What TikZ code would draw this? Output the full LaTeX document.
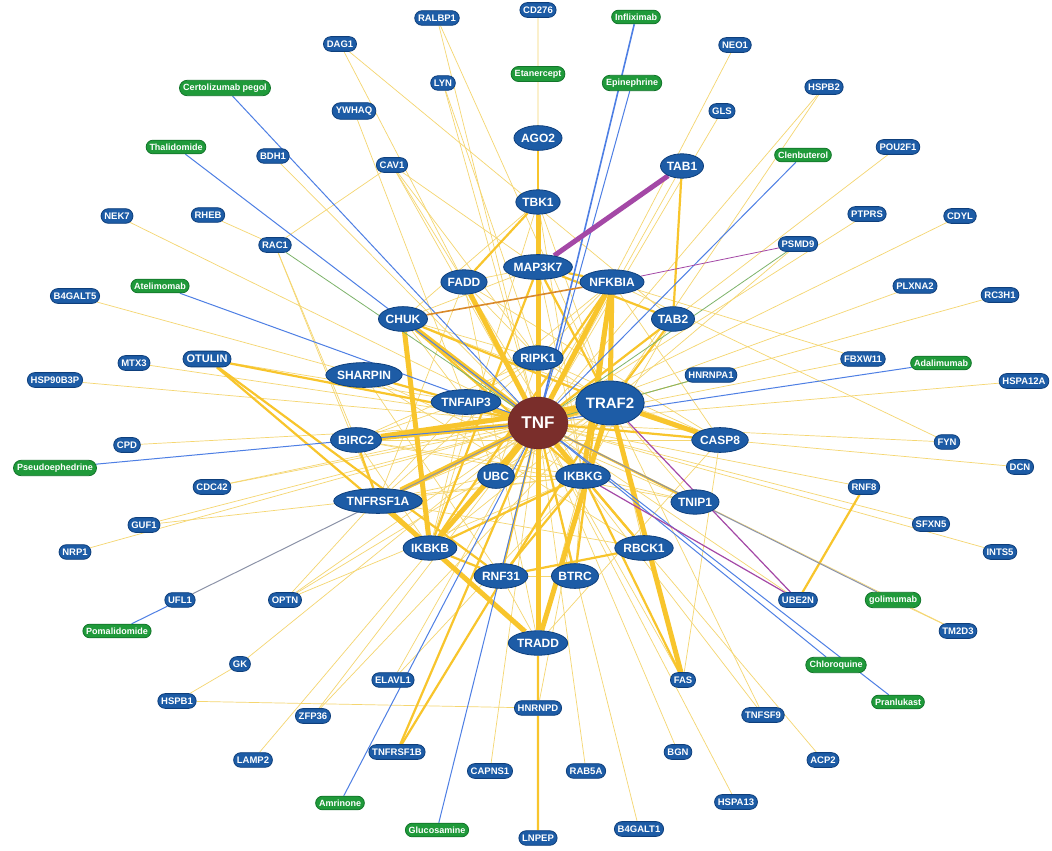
\documentclass[tikz,border=0pt]{standalone}
\usepackage{fontspec}
\setmainfont{Liberation Sans}
\usetikzlibrary{shapes.geometric,shapes.misc}
\definecolor{nblue}{HTML}{1D5CA6}
\definecolor{nbord}{HTML}{0E3F7C}
\definecolor{dgreen}{HTML}{1F9A3A}
\definecolor{dgbord}{HTML}{12752A}
\definecolor{tnfc}{HTML}{7A2E2B}
\definecolor{ythick}{HTML}{F8C52C}
\definecolor{ythin}{HTML}{F5D670}
\definecolor{eblue}{HTML}{4E7FE4}
\definecolor{epurp}{HTML}{A448A6}
\definecolor{egreen}{HTML}{7DB36A}
\definecolor{egray}{HTML}{8C93A8}
\definecolor{eorange}{HTML}{D9892A}
\pgfdeclarelayer{bg}
\pgfdeclarelayer{edges}
\pgfsetlayers{bg,edges,main}
\tikzset{
 pn/.style={rounded rectangle, fill=nblue, draw=nbord, line width=0.8pt, text=white,
   font=\bfseries\fontsize{9.5}{10}\selectfont, inner xsep=2.5pt, inner ysep=4pt},
 cn/.style={ellipse, fill=nblue, draw=nbord, line width=0.8pt, text=white,
   font=\bfseries\fontsize{12}{13}\selectfont, inner xsep=0pt, inner ysep=4.5pt},
 bn/.style={cn, font=\bfseries\fontsize{15}{16}\selectfont, minimum height=44pt, minimum width=60pt},
 dn/.style={rounded rectangle, fill=dgreen, draw=dgbord, line width=0.8pt, text=white,
   font=\bfseries\fontsize{9}{10}\selectfont, inner xsep=2.5pt, inner ysep=3.5pt},
 tn/.style={ellipse, fill=tnfc, draw=tnfc!80!black, text=white,
   font=\bfseries\fontsize{17}{18}\selectfont, minimum width=60pt, minimum height=52pt},
 ee/.style={draw=ythin, line width=0.7pt},
 em/.style={draw=ythick, line width=2.2pt},
 eh/.style={draw=ythick, line width=5pt},
 eb/.style={draw=eblue, line width=1pt},
 ep/.style={draw=epurp, line width=1.2pt},
 eg/.style={draw=egreen, line width=0.8pt},
 ey/.style={draw=egray, line width=1pt},
}
\begin{document}
\begin{tikzpicture}[x=1pt,y=-1pt]
\begin{pgfonlayer}{bg}
\fill[white] (0,0) rectangle (1052,851);
\end{pgfonlayer}
\useasboundingbox (0,0) rectangle (1052,851);
% TNF
\node[tn] (TNF) at (538,423) {TNF};
% peripheral blue
\foreach \n/\x/\y in {RALBP1/437/18, CD276/538/10, DAG1/340/44, NEO1/735/45, LYN/443/83,
 HSPB2/824/87, YWHAQ/354/111, GLS/722/111, BDH1/273/156, CAV1/392/165, POU2F1/898/147,
 NEK7/117/216, RHEB/208/215, PTPRS/867/214, CDYL/960/216, RAC1/275/245, PSMD9/798/244,
 B4GALT5/75/296, PLXNA2/915/286, RC3H1/1000/295, MTX3/134/363, HSP90B3P/55/380,
 FBXW11/863/359, HSPA12A/1024/381, FYN/947/442, CPD/127/445, DCN/1020/467, CDC42/212/487,
 RNF8/864/487, SFXN5/931/524, GUF1/144/525, NRP1/75/552, INTS5/1000/552, UFL1/180/600,
 OPTN/285/600, UBE2N/798/600, TM2D3/958/631, GK/240/664, FAS/683/680, ELAVL1/393/680,
 HSPB1/177/701, HNRNPD/538/708, ZFP36/313/716, TNFSF9/763/715, BGN/678/752,
 TNFRSF1B/397/752, LAMP2/253/760, ACP2/823/760, CAPNS1/490/771, RAB5A/586/771,
 HSPA13/736/802, LNPEP/538/838, B4GALT1/639/829, HNRNPA1/711/375}
 \node[pn] (\n) at (\x,\y) {\n};
\node[pn, font=\bfseries\fontsize{11}{12}\selectfont] (OTULIN) at (207,359) {OTULIN};
% core
\foreach \n/\x/\y in {AGO2/538/138, TAB1/682/166, TBK1/538/202, MAP3K7/538/267,
 FADD/464/282, NFKBIA/612/282, CHUK/403/319, TAB2/673/319, RIPK1/538/358,
 SHARPIN/364/375, TNFAIP3/466/402, BIRC2/356/440, CASP8/720/440, UBC/496/476,
 IKBKG/583/476, TNFRSF1A/378/501, TNIP1/695/502, IKBKB/430/548, RBCK1/644/548,
 RNF31/501/576, BTRC/575/576, TRADD/538/643}
 \node[cn] (\n) at (\x,\y) {\n};
\node[bn] (TRAF2) at (610,403) {TRAF2};
% drugs
\node[dn] (Infliximab) at (636,17) {Infliximab};
\node[dn] (Etanercept) at (538,74) {Etanercept};
\node[dn] (Epinephrine) at (632,83) {Epinephrine};
\node[dn] (Certolizumab) at (225,88) {Certolizumab pegol};
\node[dn] (Thalidomide) at (176,147) {Thalidomide};
\node[dn] (Clenbuterol) at (803,155) {Clenbuterol};
\node[dn] (Atelimomab) at (160,286) {Atelimomab};
\node[dn] (Adalimumab) at (941,363) {Adalimumab};
\node[dn] (Pseudoephedrine) at (55,468) {Pseudoephedrine};
\node[dn] (golimumab) at (893,600) {golimumab};
\node[dn] (Pomalidomide) at (117,631) {Pomalidomide};
\node[dn] (Chloroquine) at (836,665) {Chloroquine};
\node[dn] (Pranlukast) at (898,702) {Pranlukast};
\node[dn] (Amrinone) at (340,803) {Amrinone};
\node[dn] (Glucosamine) at (437,830) {Glucosamine};

\begin{pgfonlayer}{edges}
% thin peripheral edges
\foreach \a/\b in {RALBP1/TRAF2, RALBP1/TNF, CD276/AGO2, DAG1/FADD, DAG1/TAB2, LYN/TNF, LYN/RIPK1,
 YWHAQ/TNFAIP3, CAV1/TNF, CAV1/FADD, CAV1/RIPK1, CAV1/RAC1, CAV1/MAP3K7, BDH1/TNF, NEK7/TNF,
 RHEB/RAC1, RAC1/TNFRSF1A, RAC1/BIRC2, B4GALT5/TNF, OTULIN/TNFAIP3, MTX3/TNF, HSP90B3P/TNF,
 CPD/TNF, CDC42/TNF, CDC42/TRAF2, GUF1/TNF, GUF1/IKBKG, NRP1/TNF, OPTN/TNF, OPTN/TRAF2,
 OPTN/IKBKG, OPTN/TNFAIP3, GK/TNF, HSPB1/GK, HSPB1/HNRNPD, LAMP2/TNF, ZFP36/TNF, ZFP36/TRAF2,
 ELAVL1/TNF, ELAVL1/IKBKG, CAPNS1/TNF, HNRNPD/IKBKG, RAB5A/TNF, B4GALT1/TNF, BGN/TNF,
 HSPA13/TNF, FAS/TNF, FAS/CASP8, TNFSF9/TNF, TNFSF9/TRAF2, ACP2/TNF, TM2D3/TNF, UBE2N/TNF,
 RNF8/TNF, SFXN5/TNF, INTS5/TNF, DCN/TNF, FYN/TNF, FYN/NFKBIA, HSPA12A/TNF, FBXW11/TNF,
 FBXW11/NFKBIA, RC3H1/TNF, PLXNA2/TNF, CDYL/TNF, PTPRS/TNF, POU2F1/TNF, PSMD9/TRAF2,
 HSPB2/TNF, HSPB2/TRAF2, NEO1/TNF, GLS/TNF, TAB1/TNF, HNRNPA1/TRAF2, TNF/HNRNPA1,
 CHUK/TNFAIP3, CHUK/RIPK1, NFKBIA/CASP8, NFKBIA/RIPK1, NFKBIA/TNFAIP3, NFKBIA/UBC,
 MAP3K7/IKBKG, MAP3K7/FADD, MAP3K7/RIPK1, MAP3K7/CHUK, TBK1/FADD, TBK1/TRAF2, TBK1/IKBKG,
 TBK1/IKBKB, TBK1/CHUK, FADD/CASP8, FADD/TRADD, FADD/RIPK1, FADD/TNFRSF1A, FADD/IKBKG,
 TAB2/IKBKG, TRAF2/TNFRSF1A, TRAF2/IKBKB, TRAF2/RIPK1, TRAF2/UBC, TRAF2/RBCK1,
 TRAF2/TNIP1, BIRC2/TNFAIP3, BIRC2/IKBKB, BIRC2/CASP8, BIRC2/RIPK1, BIRC2/IKBKG,
 TNFRSF1A/RIPK1, TNFRSF1A/UBC, TNFRSF1A/IKBKG, IKBKB/UBC, IKBKB/TNFAIP3, IKBKG/BTRC,
 IKBKG/TNIP1, IKBKG/UBC, IKBKG/TRADD, RNF31/BTRC, RNF31/TRADD, RNF31/SHARPIN,
 RBCK1/SHARPIN, TNFAIP3/TNIP1, TNFAIP3/RIPK1, TNFAIP3/UBC, RIPK1/TRADD, RIPK1/CASP8,
 RIPK1/UBC, CASP8/TRADD, SHARPIN/IKBKG, CHUK/CASP8, BIRC2/TNIP1, TNFRSF1A/RBCK1}
 \draw[ee] (\a) -- (\b);
% medium edges
\foreach \a/\b in {AGO2/TBK1, TBK1/MAP3K7, TNF/AGO2, TNF/CASP8, TNF/RBCK1, TNF/RNF31, TNF/BTRC,
 TNF/TAB2, TNF/SHARPIN, TNF/OTULIN, TNF/TNIP1, CHUK/IKBKG, CHUK/TRAF2, NFKBIA/IKBKB,
 NFKBIA/MAP3K7, NFKBIA/BTRC, MAP3K7/TAB2, MAP3K7/IKBKB, MAP3K7/TRAF2, TAB2/TRAF2, TAB2/TAB1,
 BIRC2/TNFRSF1A, TNFRSF1A/IKBKB, IKBKB/IKBKG, IKBKB/RNF31, IKBKG/RNF31, IKBKG/RBCK1,
 IKBKG/FAS, RNF31/RBCK1, OTULIN/RNF31, OTULIN/IKBKB, TNFRSF1B/TNF, TNFRSF1B/TRAF2,
 LNPEP/HNRNPD, HNRNPD/TRADD, UBE2N/RNF8, FADD/TBK1}
 \draw[em] (\a) -- (\b);
% heavy edges
\foreach \a/\b in {TNF/TBK1, TNF/MAP3K7, TNF/FADD, TNF/NFKBIA, TNF/CHUK, TNF/RIPK1,
 TNF/TNFAIP3, TNF/TRAF2, TNF/BIRC2, TNF/UBC, TNF/IKBKG, TNF/TNFRSF1A, TNF/IKBKB, TNF/TRADD,
 CHUK/IKBKB, NFKBIA/IKBKG, NFKBIA/TRAF2, TRAF2/CASP8, TRAF2/BIRC2, TRAF2/TRADD,
 TNFRSF1A/TRADD, FAS/TRAF2}
 \draw[eh] (\a) -- (\b);
% drug (blue) edges
\foreach \a in {Epinephrine, Certolizumab, Thalidomide, Clenbuterol, Atelimomab, Adalimumab,
 Pseudoephedrine, Chloroquine, Pranlukast, Amrinone, Glucosamine}
 \draw[eb] (\a) -- (TNF);
\draw[eb, line width=1.6pt] (Infliximab) -- (TNF);
\draw[eb] (Pomalidomide) -- (UFL1);
\draw[ey] (UFL1) -- (TNF);
\draw[ey] (golimumab) -- (TNF);
\draw[ee] (TM2D3) -- (golimumab);
% green / purple / orange
\draw[eg] (RAC1) -- (TNF);
\draw[eg] (PSMD9) -- (TNF);
\draw[eg] (HNRNPA1) -- (TNF);
\draw[draw=epurp, line width=0.8pt] (PSMD9) -- (NFKBIA);
\draw[ep] (TRAF2) -- (UBE2N);
\draw[ep] (IKBKG) -- (UBE2N);
\draw[draw=epurp, line width=5pt] (TAB1) -- (MAP3K7);
\draw[draw=eorange, line width=1.6pt] (CHUK) -- (NFKBIA);
\end{pgfonlayer}
\end{tikzpicture}
\end{document}
